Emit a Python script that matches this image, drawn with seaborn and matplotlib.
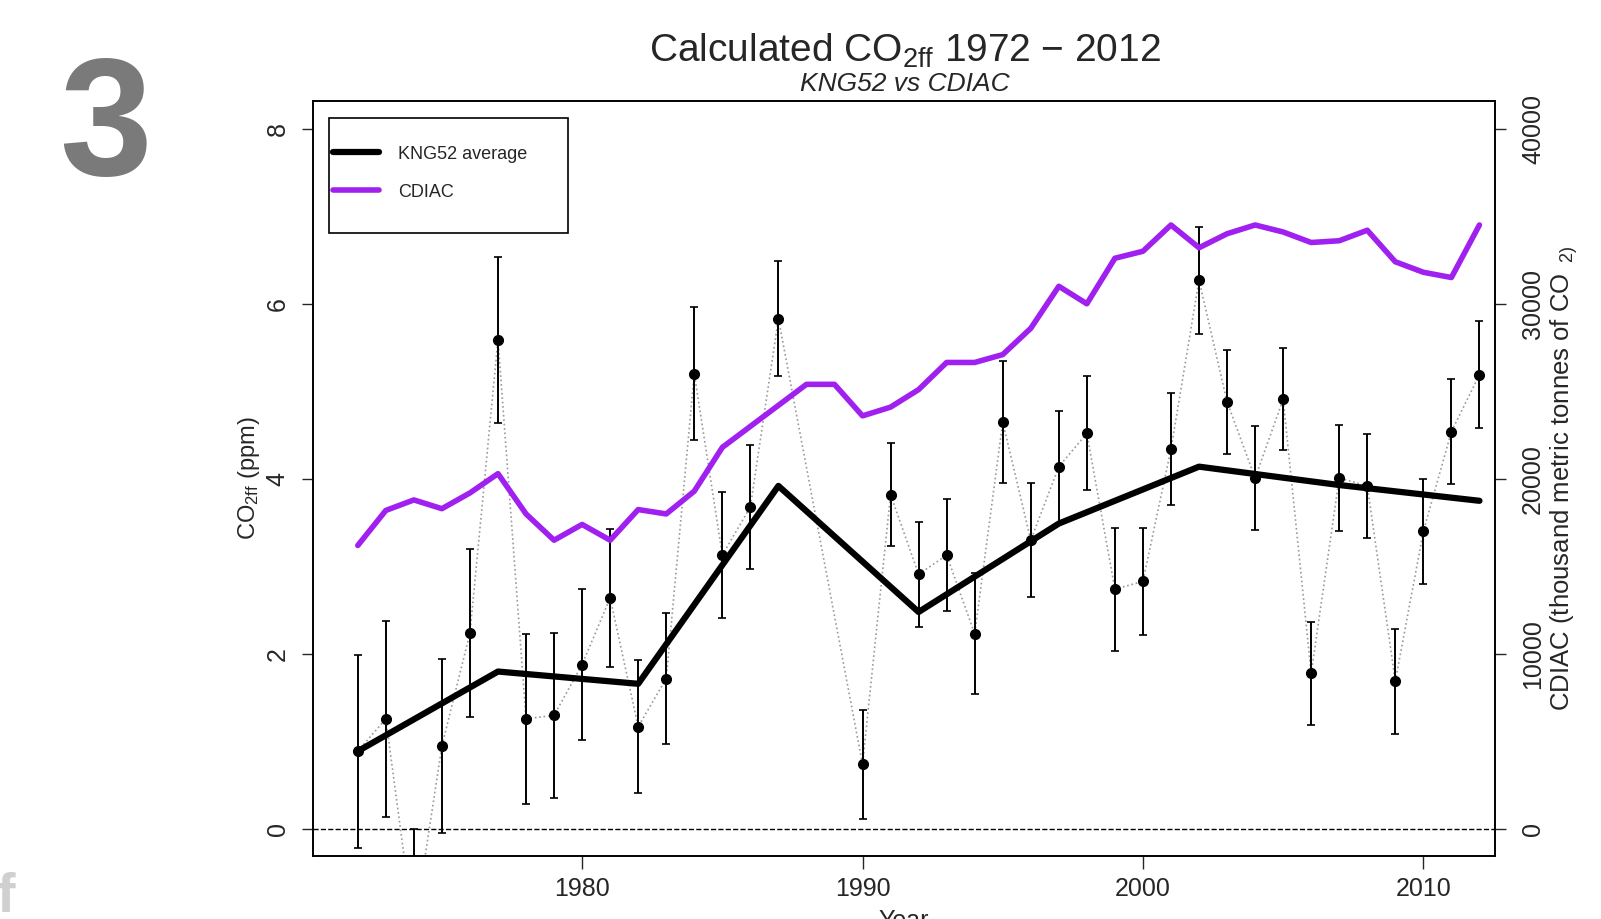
import matplotlib
matplotlib.use('Agg')
import matplotlib.pyplot as plt
from matplotlib.patches import Rectangle
import seaborn as sns
import pandas as pd

# Jahre mit Messwerten (1988/1989 fehlen)
years = [1972, 1973, 1974, 1975, 1976, 1977, 1978, 1979, 1980, 1981, 1982,
         1983, 1984, 1985, 1986, 1987, 1990, 1991, 1992, 1993, 1994, 1995,
         1996, 1997, 1998, 1999, 2000, 2001, 2002, 2003, 2004, 2005, 2006,
         2007, 2008, 2009, 2010, 2011, 2012]
co2ff = [0.89, 1.26, -1.15, 0.95, 2.24, 5.59, 1.26, 1.30, 1.88, 2.64, 1.17,
         1.72, 5.20, 3.13, 3.68, 5.83, 0.74, 3.82, 2.91, 3.13, 2.23, 4.65,
         3.30, 4.14, 4.52, 2.74, 2.83, 4.34, 6.27, 4.88, 4.01, 4.91, 1.78,
         4.01, 3.92, 1.69, 3.40, 4.54, 5.19]
co2ff_err = [1.10, 1.12, 1.15, 0.99, 0.96, 0.95, 0.97, 0.94, 0.86, 0.79, 0.76,
             0.75, 0.76, 0.72, 0.71, 0.66, 0.62, 0.59, 0.60, 0.64, 0.69, 0.70,
             0.65, 0.64, 0.65, 0.70, 0.61, 0.64, 0.61, 0.59, 0.59, 0.58, 0.59,
             0.61, 0.59, 0.60, 0.60, 0.60, 0.61]

# 5-Jahres-Mittel KNG52
avg_years = [1972, 1977, 1982, 1987, 1992, 1997, 2002, 2007, 2012]
avg_co2ff = [0.89, 1.80, 1.66, 3.92, 2.48, 3.49, 4.14, 3.93, 3.75]

# CDIAC Emissionen (tausend Tonnen CO2)
cdiac_years = list(range(1972, 2013))
cdiac = [16200, 18200, 18800, 18300, 19200, 20300, 18000, 16500, 17400, 16500,
         18250, 18000, 19300, 21800, 23000, 24200, 25400, 25400, 23600, 24100,
         25100, 26650, 26650, 27100, 28600, 31000, 30000, 32600, 33000, 34500,
         33200, 34000, 34500, 34100, 33500, 33600, 34200, 32400, 31800, 31500,
         34500]

df = pd.DataFrame({'Year': years, 'CO2ff': co2ff, 'err': co2ff_err})
df_avg = pd.DataFrame({'Year': avg_years, 'CO2ff': avg_co2ff})
df_cdiac = pd.DataFrame({'Year': cdiac_years, 'CDIAC': cdiac})

sns.set_style('ticks')
plt.rcParams['font.family'] = ['Liberation Sans', 'DejaVu Sans']
plt.rcParams['mathtext.fontset'] = 'custom'
plt.rcParams['mathtext.rm'] = 'Liberation Sans'
plt.rcParams['mathtext.it'] = 'Liberation Sans:italic'

fig = plt.figure(figsize=(16.01, 9.19), dpi=100)
ax = fig.add_axes([0.1958, 0.0689, 0.7379, 0.8211])
ax2 = ax.twinx()

ylim = (-0.303, 8.315)
ax.set_ylim(ylim)
ax.set_xlim(1970.42, 2012.55)
ax2.set_ylim(ylim[0] * 5000, ylim[1] * 5000)

# Einzelwerte mit Fehlerbalken
ax.plot(df['Year'], df['CO2ff'], ls=':', color='#9a9a9a', lw=1.2, zorder=2)
ax.errorbar(df['Year'], df['CO2ff'], yerr=df['err'], fmt='o', color='black',
            ms=7, elinewidth=1.4, capsize=3, capthick=1.2, zorder=3)

sns.lineplot(data=df_avg, x='Year', y='CO2ff', ax=ax, color='black', lw=4.5,
             label='KNG52 average', legend=False, zorder=4)
sns.lineplot(data=df_cdiac, x='Year', y='CDIAC', ax=ax2, color='#A020F0', lw=4,
             label='CDIAC', legend=False, zorder=4)

ax.axhline(0, ls='--', color='black', lw=1)

ax.set_xticks([1980, 1990, 2000, 2010])
ax.set_yticks([0, 2, 4, 6, 8])
ax2.set_yticks([0, 10000, 20000, 30000, 40000])
ax.tick_params(axis='x', labelsize=18, length=9, width=1, pad=6, direction='out')
ax.tick_params(axis='y', labelsize=18, length=8, width=1, pad=9, direction='out')
ax2.tick_params(axis='y', labelsize=18, length=8, width=1, pad=11, direction='out')
for lab in ax.get_yticklabels() + ax2.get_yticklabels():
    lab.set_rotation(90)
    lab.set_va('center')

ax.set_xlabel('Year', fontsize=18, labelpad=6)
ax.set_ylabel('CO$_{\\mathrm{2ff}}$ (ppm)', fontsize=17, labelpad=3)
ax2.set_ylabel('CDIAC (thousand metric tonnes of CO$_{\\ \\ \\mathrm{2)}}$',
               fontsize=18.5, labelpad=2, rotation=90)

for a in (ax, ax2):
    for s in a.spines.values():
        s.set_visible(True)
        s.set_color('black')
        s.set_linewidth(1.2)

# Legende mit eigenem Rahmen
ax2.add_patch(Rectangle((0.0131, 0.8256), 0.2021, 0.1524, transform=ax2.transAxes,
                        fill=False, edgecolor='black', lw=1.2, zorder=5))
h1, l1 = ax.get_legend_handles_labels()
h2, l2 = ax2.get_legend_handles_labels()
leg = ax2.legend(h1 + h2, l1 + l2, loc='upper left', bbox_to_anchor=(0.0131, 0.9458),
                 fontsize=13, frameon=False, handlelength=2.56, labelspacing=1.16,
                 borderpad=0.2, borderaxespad=0, handletextpad=1.05)

fig.text(0.565, 0.945, 'Calculated CO$_{\\mathrm{2ff}}$ 1972 $-$ 2012', ha='center',
         va='center', fontsize=28)
fig.text(0.565, 0.909, 'KNG52 vs CDIAC', ha='center', va='center',
         fontsize=19, style='italic')

fig.text(0.066, 0.856, '3', ha='center', va='center', fontsize=120,
         fontweight='bold', color='#7a7a7a')
fig.text(0.004, -0.005, 'f', ha='center', va='bottom', fontsize=40,
         fontweight='bold', color='#d0d0d0')

fig.savefig('out.png', dpi=100)
